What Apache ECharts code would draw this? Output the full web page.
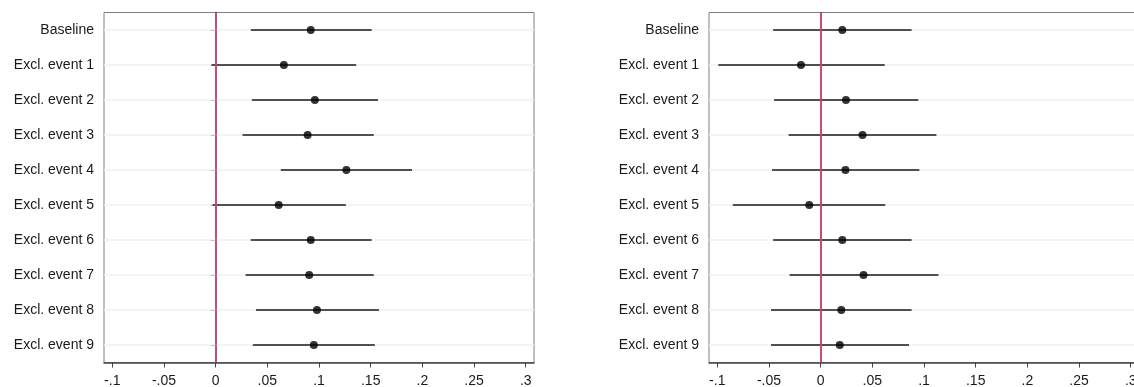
<!DOCTYPE html>
<html>
<head>
<meta charset="utf-8">
<style>
  html, body { margin: 0; padding: 0; background: #ffffff; }
  #chart { width: 1134px; height: 387px; }
</style>
<script src="https://cdn.jsdelivr.net/npm/echarts@6/dist/echarts.min.js"></script>
</head>
<body>
<div id="chart"></div>
<script>
// Row labels, top to bottom
const categories = ['Baseline', 'Excl. event 1', 'Excl. event 2', 'Excl. event 3', 'Excl. event 4',
                    'Excl. event 5', 'Excl. event 6', 'Excl. event 7', 'Excl. event 8', 'Excl. event 9'];

// Left panel: point estimates and confidence bounds
const leftEst = [0.092, 0.066, 0.096, 0.089, 0.1265, 0.061, 0.092, 0.0905, 0.098, 0.095];
const leftLo  = [0.034, -0.004, 0.035, 0.026, 0.063, -0.003, 0.034, 0.029, 0.039, 0.036];
const leftHi  = [0.151, 0.136, 0.157, 0.153, 0.190, 0.126, 0.151, 0.153, 0.158, 0.154];

// Right panel: point estimates and confidence bounds
const rightEst = [0.021, -0.019, 0.0245, 0.0405, 0.024, -0.011, 0.021, 0.0415, 0.020, 0.0185];
const rightLo  = [-0.046, -0.099, -0.045, -0.031, -0.047, -0.085, -0.046, -0.030, -0.048, -0.048];
const rightHi  = [0.088, 0.062, 0.0945, 0.112, 0.0955, 0.0625, 0.088, 0.114, 0.088, 0.0855];

// Horizontal axis ticks
const tickValues = [-0.1, -0.05, 0, 0.05, 0.1, 0.15, 0.2, 0.25, 0.3];
const tickLabels = ['-.1', '-.05', '0', '.05', '.1', '.15', '.2', '.25', '.3'];

const FONT = 'Liberation Sans, Arial, sans-serif';
const TEXT = '#1a1a1a';

function xAxisFor(gridIndex) {
  return {
    type: 'value', gridIndex,
    min: -0.108, max: 0.308,
    axisLine: { show: true, onZero: false, lineStyle: { color: '#444', width: 1.5 } },
    axisTick: { show: true, customValues: tickValues, length: 5, lineStyle: { color: '#444', width: 1 } },
    axisLabel: {
      customValues: tickValues, margin: 12, fontFamily: FONT, fontSize: 14, color: TEXT,
      formatter: v => {
        const i = tickValues.findIndex(t => Math.abs(t - v) < 1e-9);
        return i >= 0 ? tickLabels[i] : '';
      }
    },
    splitLine: { show: false }
  };
}

function yAxisFor(gridIndex) {
  return {
    type: 'category', gridIndex, data: categories, inverse: true, boundaryGap: true,
    axisLine: { show: true, lineStyle: { color: '#444', width: 1.5 } },
    axisTick: { show: true, alignWithLabel: true, length: 5, lineStyle: { color: '#444', width: 1 } },
    axisLabel: { margin: 10, fontFamily: FONT, fontSize: 14, color: TEXT },
    splitLine: { show: false }
  };
}

// Builds the layered series of one panel: row guide lines, intervals, zero line, estimates
function panelSeries(idx, est, lo, hi) {
  const rows = categories.map((c, i) => [lo[i], hi[i], i]);
  return [
    {
      type: 'scatter', xAxisIndex: idx, yAxisIndex: idx, data: [], z: 1, silent: true,
      markLine: {
        z: 1, silent: true, symbol: 'none', animation: false,
        label: { show: false },
        lineStyle: { color: '#edf2f2', width: 1.5, type: 'solid' },
        data: categories.map(c => ({ yAxis: c }))
      }
    },
    {
      type: 'custom', xAxisIndex: idx, yAxisIndex: idx, z: 2, silent: true,
      data: rows,
      encode: { x: [0, 1], y: 2 },
      renderItem: (params, api) => {
        const a = api.coord([api.value(0), api.value(2)]);
        const b = api.coord([api.value(1), api.value(2)]);
        return {
          type: 'line',
          shape: { x1: a[0], y1: a[1], x2: b[0], y2: b[1] },
          style: { stroke: '#505050', lineWidth: 2 }
        };
      }
    },
    {
      type: 'scatter', xAxisIndex: idx, yAxisIndex: idx, data: [], z: 3, silent: true,
      markLine: {
        z: 3, silent: true, symbol: 'none', animation: false,
        label: { show: false },
        lineStyle: { color: '#d8476e', width: 1.6, type: 'solid' },
        data: [{ xAxis: 0 }]
      }
    },
    {
      type: 'scatter', xAxisIndex: idx, yAxisIndex: idx, z: 4, silent: true,
      symbol: 'circle', symbolSize: 8,
      itemStyle: { color: '#000000' },
      data: est.map((v, i) => [v, categories[i]])
    }
  ];
}

const chart = echarts.init(document.getElementById('chart'), null, { renderer: 'canvas' });
chart.setOption({
  animation: false,
  backgroundColor: '#ffffff',
  grid: [
    { left: 104, top: 12.5, width: 430, height: 350, show: true, borderColor: '#808080', borderWidth: 1, backgroundColor: '#ffffff', outerBoundsMode: 'none' },
    { left: 709, top: 12.5, width: 430, height: 350, show: true, borderColor: '#808080', borderWidth: 1, backgroundColor: '#ffffff', outerBoundsMode: 'none' }
  ],
  xAxis: [xAxisFor(0), xAxisFor(1)],
  yAxis: [yAxisFor(0), yAxisFor(1)],
  series: [
    ...panelSeries(0, leftEst, leftLo, leftHi),
    ...panelSeries(1, rightEst, rightLo, rightHi)
  ]
});
</script>
</body>
</html>
